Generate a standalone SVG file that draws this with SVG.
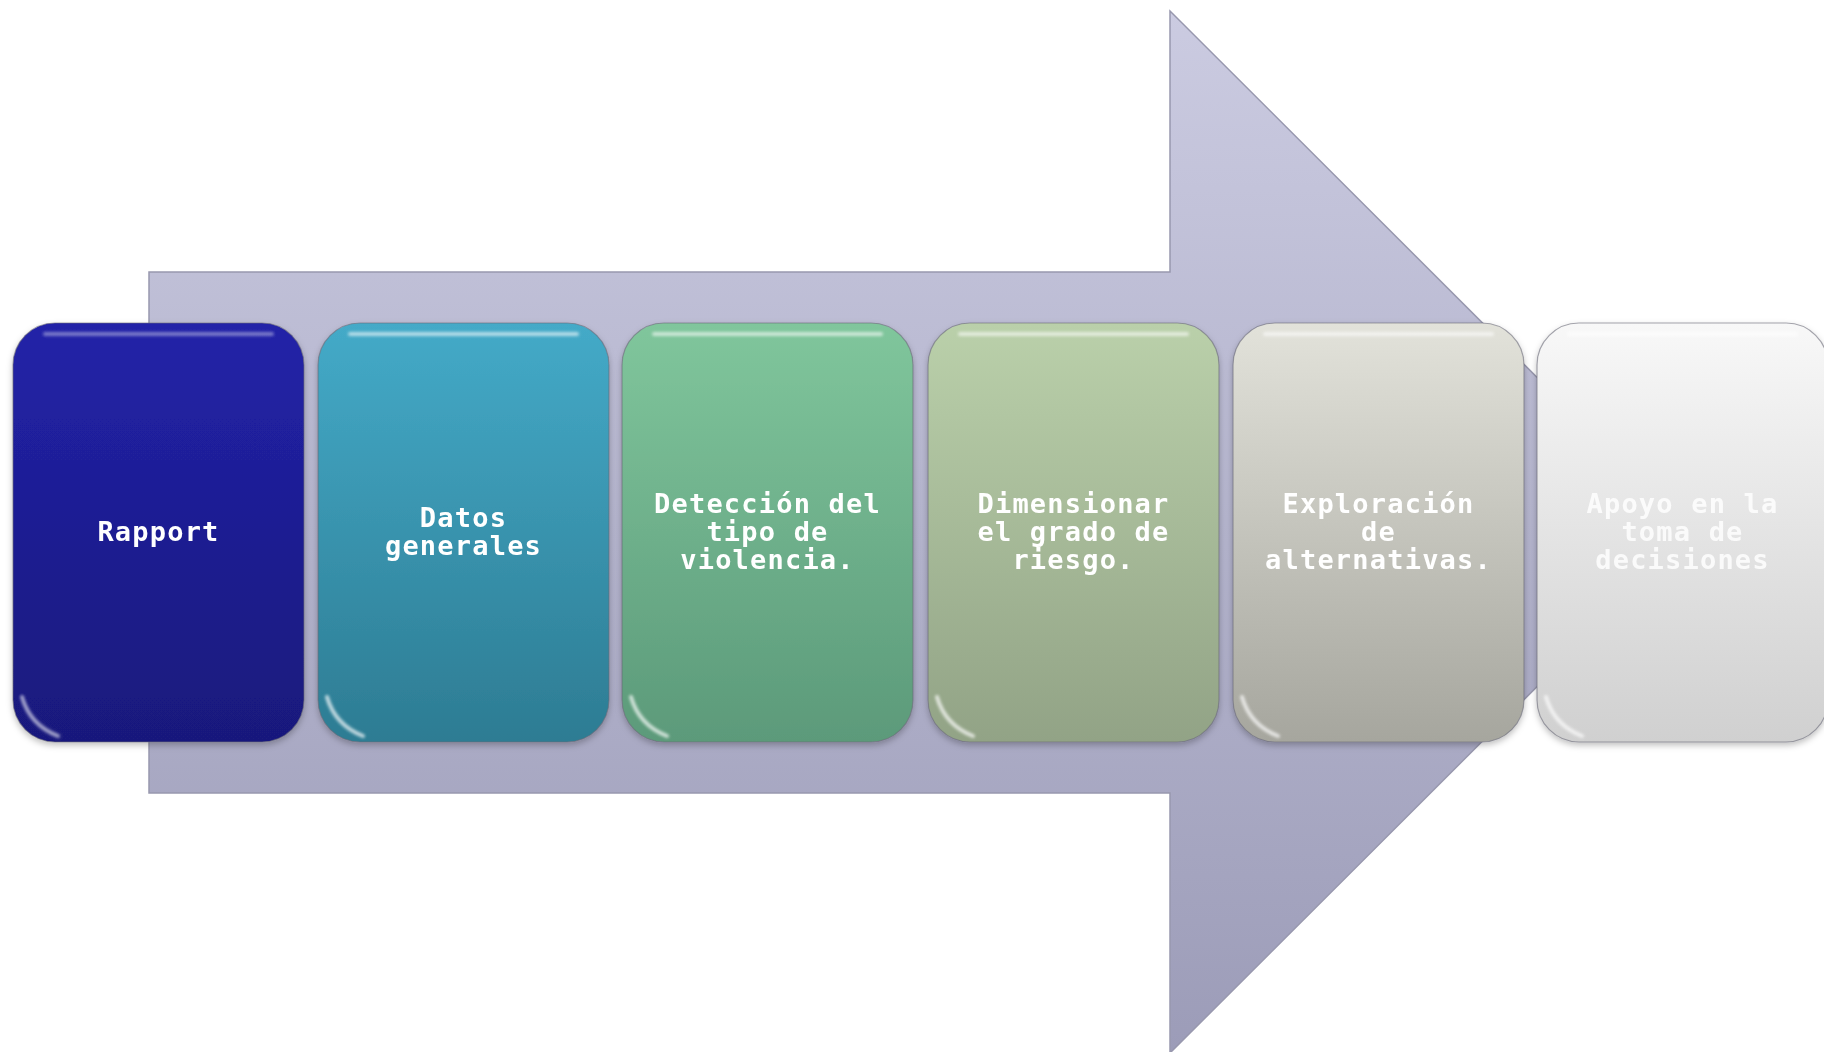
<svg xmlns="http://www.w3.org/2000/svg" width="1824" height="1052" viewBox="0 0 1824 1052">
<defs>
<linearGradient id="ga" x1="0" y1="11" x2="0" y2="1053" gradientUnits="userSpaceOnUse"><stop offset="0" stop-color="#cbcbe1"/><stop offset="1" stop-color="#9c9cb8"/></linearGradient>
<linearGradient id="g1" x1="0" y1="0" x2="0" y2="1"><stop offset="0" stop-color="#2222a8"/><stop offset="1" stop-color="#19197c"/></linearGradient>
<linearGradient id="g2" x1="0" y1="0" x2="0" y2="1"><stop offset="0" stop-color="#44aac8"/><stop offset="1" stop-color="#2d7c93"/></linearGradient>
<linearGradient id="g3" x1="0" y1="0" x2="0" y2="1"><stop offset="0" stop-color="#80c69c"/><stop offset="1" stop-color="#5c9a7a"/></linearGradient>
<linearGradient id="g4" x1="0" y1="0" x2="0" y2="1"><stop offset="0" stop-color="#bad0aa"/><stop offset="1" stop-color="#92a386"/></linearGradient>
<linearGradient id="g5" x1="0" y1="0" x2="0" y2="1"><stop offset="0" stop-color="#e2e2da"/><stop offset="1" stop-color="#a6a69e"/></linearGradient>
<linearGradient id="g6" x1="0" y1="0" x2="0" y2="1"><stop offset="0" stop-color="#f8f8f8"/><stop offset="1" stop-color="#d0d0d0"/></linearGradient>
<filter id="blur" filterUnits="userSpaceOnUse" x="0" y="0" width="1824" height="1052"><feGaussianBlur stdDeviation="1.5"/></filter>
<filter id="sh" x="-10%" y="-10%" width="120%" height="120%"><feDropShadow dx="0" dy="3" stdDeviation="3" flood-color="#000" flood-opacity="0.25"/></filter>
</defs>
<style>
.box{stroke:#6a6a78;stroke-width:1.2;stroke-opacity:0.6}
.hl{fill:none;stroke:#ffffff;stroke-linecap:round}
.lbl{font-family:"DejaVu Sans Mono","Liberation Mono",monospace;font-weight:bold;font-size:27px;letter-spacing:1.2px;fill:#ffffff;text-anchor:middle}
</style>
<rect width="1824" height="1052" fill="#ffffff"/>
<g id="arrow">
<path d="M149,272 L1170,272 L1170,11 L1692,532 L1170,1053 L1170,793 L149,793 Z" fill="url(#ga)" stroke="#9898ae" stroke-width="1.5"/>
</g>
<g id="connectors"></g>
<g id="node1" filter="url(#sh)">
<rect class="box" x="13" y="323" width="291" height="419" rx="42" fill="url(#g1)"/>
<path class="hl" d="M45,334 L272,334" stroke-width="4" opacity="0.4" filter="url(#blur)"/>
<path class="hl" d="M22,697 Q30,725 58,736" stroke-width="4" opacity="0.6" filter="url(#blur)"/>
<text class="lbl" x="158.5" y="541">Rapport</text>
</g>
<g id="node2" filter="url(#sh)">
<rect class="box" x="318" y="323" width="291" height="419" rx="42" fill="url(#g2)"/>
<path class="hl" d="M350,334 L577,334" stroke-width="4" opacity="0.6" filter="url(#blur)"/>
<path class="hl" d="M327,697 Q335,725 363,736" stroke-width="4" opacity="0.7" filter="url(#blur)"/>
<text class="lbl" x="463.5" y="527">Datos</text>
<text class="lbl" x="463.5" y="555">generales</text>
</g>
<g id="node3" filter="url(#sh)">
<rect class="box" x="622" y="323" width="291" height="419" rx="42" fill="url(#g3)"/>
<path class="hl" d="M654,334 L881,334" stroke-width="4" opacity="0.6" filter="url(#blur)"/>
<path class="hl" d="M631,697 Q639,725 667,736" stroke-width="4" opacity="0.7" filter="url(#blur)"/>
<text class="lbl" x="767.5" y="513">Detección del</text>
<text class="lbl" x="767.5" y="541">tipo de</text>
<text class="lbl" x="767.5" y="569">violencia.</text>
</g>
<g id="node4" filter="url(#sh)">
<rect class="box" x="928" y="323" width="291" height="419" rx="42" fill="url(#g4)"/>
<path class="hl" d="M960,334 L1187,334" stroke-width="4" opacity="0.6" filter="url(#blur)"/>
<path class="hl" d="M937,697 Q945,725 973,736" stroke-width="4" opacity="0.7" filter="url(#blur)"/>
<text class="lbl" x="1073.5" y="513">Dimensionar</text>
<text class="lbl" x="1073.5" y="541">el grado de</text>
<text class="lbl" x="1073.5" y="569">riesgo.</text>
</g>
<g id="node5" filter="url(#sh)">
<rect class="box" x="1233" y="323" width="291" height="419" rx="42" fill="url(#g5)"/>
<path class="hl" d="M1265,334 L1492,334" stroke-width="4" opacity="0.6" filter="url(#blur)"/>
<path class="hl" d="M1242,697 Q1250,725 1278,736" stroke-width="4" opacity="0.7" filter="url(#blur)"/>
<text class="lbl" x="1378.5" y="513">Exploración</text>
<text class="lbl" x="1378.5" y="541">de</text>
<text class="lbl" x="1378.5" y="569">alternativas.</text>
</g>
<g id="node6" filter="url(#sh)">
<rect class="box" x="1537" y="323" width="291" height="419" rx="42" fill="url(#g6)"/>
<path class="hl" d="M1569,334 L1796,334" stroke-width="4" opacity="0.6" filter="url(#blur)"/>
<path class="hl" d="M1546,697 Q1554,725 1582,736" stroke-width="4" opacity="0.7" filter="url(#blur)"/>
<text class="lbl" x="1682.5" y="513" opacity="0.85">Apoyo en la</text>
<text class="lbl" x="1682.5" y="541" opacity="0.85">toma de</text>
<text class="lbl" x="1682.5" y="569" opacity="0.85">decisiones</text>
</g>
</svg>
